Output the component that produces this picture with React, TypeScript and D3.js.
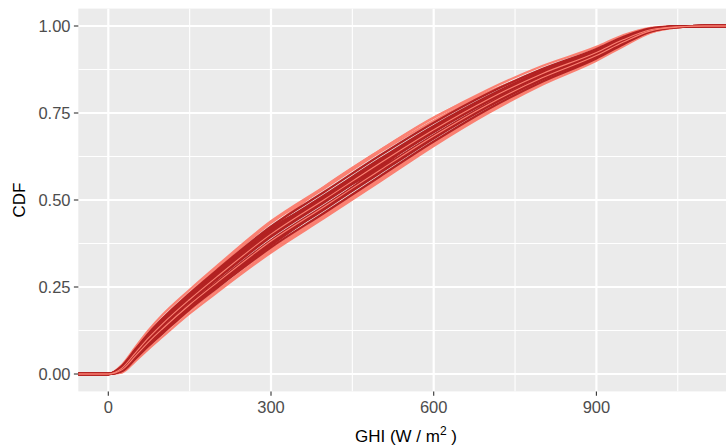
import React from "react";
import * as d3 from "d3";

// GHI grid (W/m²) at which each CDF curve was read
const GHI = [0, 25, 50, 75, 100, 150, 200, 300, 400, 500, 600, 700, 800, 900, 950, 1000, 1050, 1100];

// light (salmon) curves
const S1 = [0, 0.026, 0.077, 0.127, 0.17, 0.242, 0.31, 0.439, 0.54, 0.642, 0.736, 0.817, 0.885, 0.94, 0.974, 0.995, 1, 1];
const S2 = [0, 0.004, 0.037, 0.073, 0.107, 0.174, 0.234, 0.349, 0.45, 0.552, 0.655, 0.749, 0.831, 0.9, 0.942, 0.981, 0.996, 1];
const S3 = [0, 0.021, 0.069, 0.117, 0.159, 0.233, 0.303, 0.434, 0.535, 0.637, 0.728, 0.808, 0.875, 0.932, 0.968, 0.993, 0.999, 1];
const S4 = [0, 0.007, 0.042, 0.08, 0.115, 0.182, 0.24, 0.354, 0.455, 0.557, 0.66, 0.753, 0.836, 0.905, 0.946, 0.982, 0.996, 1];
const S5 = [0, 0.017, 0.061, 0.107, 0.147, 0.22, 0.288, 0.42, 0.54, 0.642, 0.737, 0.81, 0.87, 0.928, 0.964, 0.99, 0.998, 1];
const S6 = [0, 0.017, 0.061, 0.105, 0.144, 0.214, 0.279, 0.402, 0.503, 0.605, 0.702, 0.789, 0.863, 0.924, 0.961, 0.989, 0.998, 1];
const S7 = [0, 0.012, 0.052, 0.093, 0.13, 0.199, 0.262, 0.382, 0.483, 0.585, 0.684, 0.774, 0.851, 0.915, 0.954, 0.986, 0.997, 1];
const S8 = [0, 0.009, 0.047, 0.087, 0.123, 0.19, 0.25, 0.359, 0.46, 0.562, 0.665, 0.758, 0.838, 0.906, 0.948, 0.984, 0.997, 1];

// dark (firebrick) curves
const D1 = [0, 0.023, 0.071, 0.118, 0.159, 0.231, 0.298, 0.424, 0.525, 0.627, 0.722, 0.806, 0.876, 0.934, 0.969, 0.993, 0.999, 1];
const D2 = [0, 0.008, 0.044, 0.082, 0.117, 0.186, 0.247, 0.364, 0.465, 0.567, 0.668, 0.761, 0.84, 0.907, 0.948, 0.984, 0.997, 1];
const D3 = [0, 0.02, 0.066, 0.112, 0.152, 0.223, 0.289, 0.414, 0.515, 0.617, 0.713, 0.798, 0.87, 0.929, 0.965, 0.991, 0.999, 1];
const D4 = [0, 0.01, 0.048, 0.088, 0.124, 0.193, 0.255, 0.374, 0.475, 0.577, 0.677, 0.768, 0.846, 0.911, 0.951, 0.985, 0.997, 1];
const D5 = [0, 0.018, 0.062, 0.106, 0.145, 0.216, 0.281, 0.404, 0.505, 0.607, 0.704, 0.791, 0.864, 0.925, 0.962, 0.99, 0.998, 1];
const D6 = [0, 0.013, 0.053, 0.094, 0.131, 0.201, 0.264, 0.384, 0.485, 0.587, 0.686, 0.776, 0.852, 0.916, 0.955, 0.987, 0.998, 1];
const D7 = [0, 0.015, 0.057, 0.1, 0.138, 0.208, 0.272, 0.394, 0.495, 0.597, 0.695, 0.783, 0.858, 0.92, 0.958, 0.988, 0.998, 1];
const D8 = [0, 0.019, 0.064, 0.109, 0.149, 0.219, 0.285, 0.409, 0.51, 0.612, 0.709, 0.794, 0.867, 0.927, 0.963, 0.99, 0.999, 1];
const D9 = [0, 0.011, 0.05, 0.091, 0.128, 0.197, 0.259, 0.379, 0.48, 0.582, 0.682, 0.772, 0.849, 0.913, 0.953, 0.986, 0.997, 1];
const D10 = [0, 0.021, 0.068, 0.115, 0.156, 0.227, 0.293, 0.419, 0.505, 0.59, 0.685, 0.775, 0.852, 0.915, 0.955, 0.987, 0.998, 1];
const D11 = [0, 0.009, 0.046, 0.085, 0.12, 0.189, 0.25, 0.37, 0.48, 0.592, 0.705, 0.795, 0.87, 0.929, 0.965, 0.991, 0.999, 1];
const D12 = [0, 0.016, 0.059, 0.103, 0.142, 0.212, 0.276, 0.399, 0.5, 0.602, 0.7, 0.787, 0.861, 0.922, 0.96, 0.989, 0.998, 1];

const LIGHT_UNDER = [S1, S2, S3, S4, S5, S8];
const DARK = [D1, D2, D3, D4, D5, D6, D7, D8, D9, D10, D11, D12];
const LIGHT_OVER = [S6, S7];

const X_TICKS = [0, 300, 600, 900];
const X_MINOR = [150, 450, 750, 1050];
const Y_TICKS = [0, 0.25, 0.5, 0.75, 1];
const Y_MINOR = [0.125, 0.375, 0.625, 0.875];
const Y_LABELS = ["0.00", "0.25", "0.50", "0.75", "1.00"];

const LIGHT = "#FA8072";
const DARKC = "#B22222";

export default function App() {
  const W = 726, H = 446;
  const panel = { left: 78.3, top: 8.6, right: 740, bottom: 391.4 };
  const x = d3.scaleLinear().domain([0, 900]).range([108.3, 596.4]);
  const y = d3.scaleLinear().domain([0, 1]).range([374, 26]);
  const xMin = x.invert(panel.left - 2);
  const xMax = x.invert(panel.right + 2);

  const line = d3
    .line<[number, number]>()
    .x((d) => x(d[0]))
    .y((d) => y(d[1]))
    .curve(d3.curveMonotoneX);

  const path = (vals: number[]) => {
    const pts: [number, number][] = [[xMin, 0]];
    GHI.forEach((g, i) => pts.push([g, vals[i]]));
    pts.push([xMax, 1]);
    return line(pts) || "";
  };

  const font = "Liberation Sans, Arial, sans-serif";

  return (
    <svg width={W} height={H} style={{ position: "absolute", left: 0, top: 0 }}>
      <defs>
        <clipPath id="pclip">
          <rect x={panel.left} y={panel.top} width={panel.right - panel.left} height={panel.bottom - panel.top} />
        </clipPath>
      </defs>
      <rect x={0} y={0} width={W} height={H} fill="#fff" />
      <rect x={panel.left} y={panel.top} width={panel.right - panel.left} height={panel.bottom - panel.top} fill="#EBEBEB" />
      <g clipPath="url(#pclip)">
        {Y_MINOR.map((v) => (
          <line key={"ym" + v} x1={panel.left} x2={panel.right} y1={y(v)} y2={y(v)} stroke="#fff" strokeWidth={1.1} />
        ))}
        {X_MINOR.map((v) => (
          <line key={"xm" + v} y1={panel.top} y2={panel.bottom} x1={x(v)} x2={x(v)} stroke="#fff" strokeWidth={1.1} />
        ))}
        {Y_TICKS.map((v) => (
          <line key={"yM" + v} x1={panel.left} x2={panel.right} y1={y(v)} y2={y(v)} stroke="#fff" strokeWidth={2.2} />
        ))}
        {X_TICKS.map((v) => (
          <line key={"xM" + v} y1={panel.top} y2={panel.bottom} x1={x(v)} x2={x(v)} stroke="#fff" strokeWidth={2.2} />
        ))}
        {LIGHT_UNDER.map((s, i) => (
          <path key={"lu" + i} d={path(s)} fill="none" stroke={LIGHT} strokeWidth={2.2} />
        ))}
        {DARK.map((s, i) => (
          <path key={"d" + i} d={path(s)} fill="none" stroke={DARKC} strokeWidth={2.3} />
        ))}
        {LIGHT_OVER.map((s, i) => (
          <path key={"lo" + i} d={path(s)} fill="none" stroke={LIGHT} strokeWidth={1.1} />
        ))}
      </g>
      {/* y axis */}
      {Y_TICKS.map((v, i) => (
        <g key={"yt" + v}>
          <line x1={73.9} x2={panel.left} y1={y(v)} y2={y(v)} stroke="#333" strokeWidth={1.1} />
          <text x={70.5} y={y(v)} dy="0.36em" textAnchor="end" fontFamily={font} fontSize={16.5} fill="#4D4D4D">
            {Y_LABELS[i]}
          </text>
        </g>
      ))}
      {/* x axis */}
      {X_TICKS.map((v) => (
        <g key={"xt" + v}>
          <line y1={panel.bottom} y2={panel.bottom + 4.4} x1={x(v)} x2={x(v)} stroke="#333" strokeWidth={1.1} />
          <text x={x(v)} y={413} textAnchor="middle" fontFamily={font} fontSize={16.5} fill="#4D4D4D">
            {String(v)}
          </text>
        </g>
      ))}
      <text x={406} y={441.5} textAnchor="middle" fontFamily={font} fontSize={17} fill="#000">
        GHI (W / m
        <tspan dy={-7} fontSize={12}>2</tspan>
        <tspan dy={7}> )</tspan>
      </text>
      <text
        transform={`translate(25,${(panel.top + panel.bottom) / 2}) rotate(-90)`}
        textAnchor="middle"
        fontFamily={font}
        fontSize={17}
        fill="#000"
      >
        CDF
      </text>
    </svg>
  );
}
